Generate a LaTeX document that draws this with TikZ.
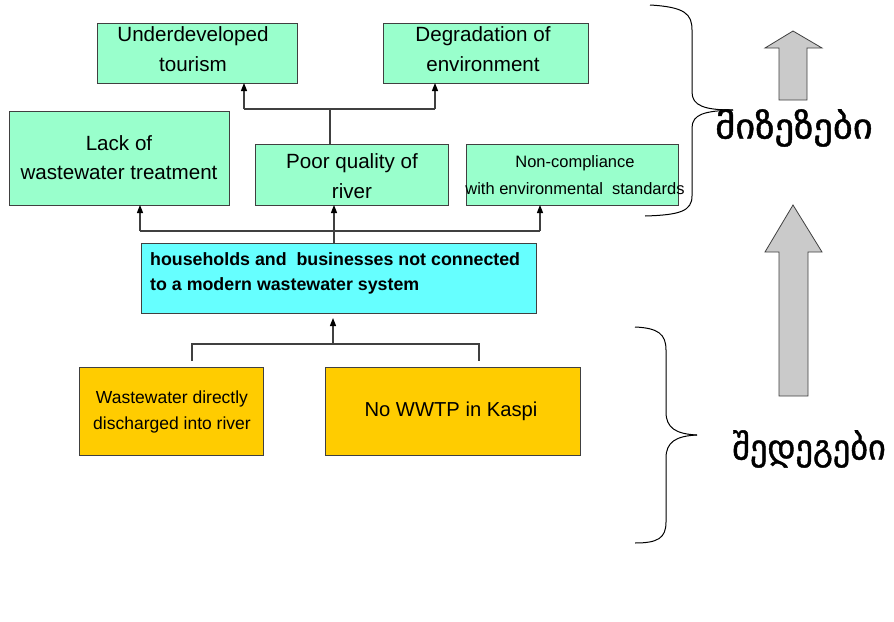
\documentclass[tikz,border=0pt]{standalone}
\usepackage{fontspec}
\setmainfont{Liberation Sans}
\newfontfamily\geofont[FakeBold=1.2]{DejaVu Sans}
\usetikzlibrary{arrows.meta}
\definecolor{boxgreen}{HTML}{99FFCC}
\definecolor{boxcyan}{HTML}{66FFFF}
\definecolor{boxorange}{HTML}{FFCC00}
\definecolor{arrgray}{HTML}{CACACA}
\definecolor{linegray}{HTML}{404040}
\tikzset{
  box/.style={draw=linegray, line width=1pt, inner sep=0pt, outer sep=0pt},
  gbox/.style={box, fill=boxgreen},
  cbox/.style={box, fill=boxcyan},
  obox/.style={box, fill=boxorange},
  txt/.style={align=center, inner sep=0pt, text=black},
  conn/.style={draw=linegray, line width=1.3pt},
  arr/.style={conn, -{Triangle[length=8pt,width=6pt,color=black]}},
  brace/.style={draw=black, line width=1pt},
  bigarrow/.style={fill=arrgray, draw=linegray, line width=0.8pt},
  geo/.style={inner sep=0pt, font=\geofont\fontsize{35}{40}\selectfont}
}
\begin{document}
\begin{tikzpicture}[x=1pt, y=-1pt]
\path[use as bounding box, fill=white] (0,0) rectangle (894,621);

% boxes
\node[gbox, minimum width=200pt, minimum height=60pt] (tour) at (197,53) {};
\node[gbox, minimum width=205pt, minimum height=60pt] (degr) at (485.5,53) {};
\node[gbox, minimum width=220pt, minimum height=94pt] (lack) at (119,158) {};
\node[gbox, minimum width=193pt, minimum height=61pt] (poor) at (351.5,174.5) {};
\node[gbox, minimum width=212pt, minimum height=61pt] (nonc) at (572,174.5) {};
\node[cbox, minimum width=395pt, minimum height=70pt] (hh) at (338.5,278) {};
\node[obox, minimum width=184pt, minimum height=88pt] (wdir) at (171,411) {};
\node[obox, minimum width=255pt, minimum height=88pt] (nowwtp) at (452.5,411) {};

% texts
\node[txt, font=\fontsize{20.6}{30}\selectfont] (tourT) at (193,49) {Underdeveloped\\tourism};
\node[txt, font=\fontsize{20.6}{30}\selectfont] (degrT) at (483,49) {Degradation of\\environment};
\node[txt, font=\fontsize{20.6}{29}\selectfont] (lackT) at (119,158) {Lack of\\wastewater treatment};
\node[txt, font=\fontsize{20.6}{30}\selectfont] (poorT) at (352,176) {Poor quality of\\river};
\node[txt, font=\fontsize{16.5}{27}\selectfont] (noncT) at (575,175) {Non-compliance\\with environmental\ \ standards};
\node[txt, align=left, anchor=west, font=\bfseries\fontsize{17.8}{25}\selectfont] (hhT) at (150,273) {households and\ \ businesses not connected\\to a modern wastewater system};
\node[txt, font=\fontsize{17.5}{26}\selectfont] (wdirT) at (172,412) {Wastewater directly\\discharged into river};
\node[txt, font=\fontsize{20.2}{24}\selectfont] (nowwtpT) at (451,411) {No WWTP in Kaspi};

% connectors top level
\coordinate (jm) at (330,109);
\coordinate (jl) at (244,109);
\coordinate (jr) at (435,109);
\draw[conn] (poor.north -| jm) -- (jm);
\draw[conn] (jl) -- (jr);
\draw[arr] (jl) -- (tour.south -| jl);
\draw[arr] (jr) -- (degr.south -| jr);

% connectors middle level
\coordinate (kl) at (140,231);
\coordinate (kr) at (540,231);
\coordinate (km) at (334,231);
\draw[conn] (kl) -- (kr);
\draw[arr] (kl) -- (lack.south -| kl);
\draw[arr] (kr) -- (nonc.south -| kr);
\draw[arr] (hh.north -| km) -- (poor.south -| km);

% connectors bottom level
\coordinate (ml) at (192,344);
\coordinate (mr) at (479,344);
\coordinate (mm) at (333,344);
\coordinate (ml2) at (192,361);
\coordinate (mr2) at (479,361);
\draw[conn] (ml2) -- (ml) -- (mr) -- (mr2);
\draw[arr, shorten >=5pt] (mm) -- (hh.south -| mm);

% braces
\draw[brace] (650,5) .. controls (685,7) and (692,14) .. (692,30) -- (692,92)
  .. controls (692,106) and (705,110) .. (733,110);
\draw[brace] (733,110) .. controls (705,111) and (692,114) .. (692,128) -- (692,196)
  .. controls (692,211) and (680,215) .. (645,216);
\draw[brace] (635,327) .. controls (658,328) and (666,334) .. (666,350) -- (666,412)
  .. controls (666,428) and (676,434) .. (697,435);
\draw[brace] (697,435) .. controls (676,436) and (666,442) .. (666,458) -- (666,522)
  .. controls (666,538) and (658,543) .. (635,543);

% big gray arrows
\draw[bigarrow] (779,100) -- (779,48) -- (765,48) -- (793,31) -- (822,48) -- (807,48) -- (807,100) -- cycle;
\draw[bigarrow] (779,396) -- (779,252) -- (765,252) -- (793,205) -- (822,252) -- (808,252) -- (808,396) -- cycle;

% Georgian labels
\node[geo, xscale=1.1] (causes) at (794,128) {მიზეზები};
\node[geo, xscale=0.98] (effects) at (809,449) {შედეგები};
\end{tikzpicture}
\end{document}
